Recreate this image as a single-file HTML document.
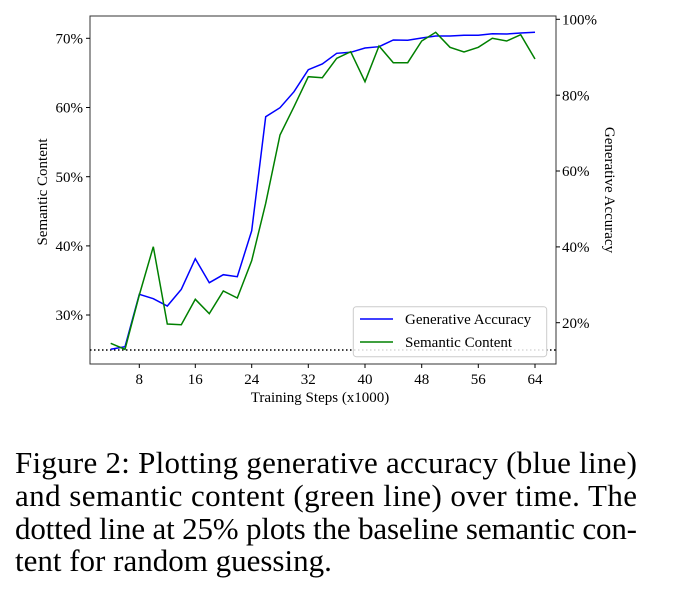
<!DOCTYPE html>
<html><head><meta charset="utf-8"><style>
html,body{margin:0;padding:0;background:#fff;width:691px;height:597px;overflow:hidden}
svg text{font-family:"Liberation Serif",serif;fill:#000}
</style></head><body>
<svg width="691" height="597" viewBox="0 0 691 597">
<rect x="90" y="16" width="466" height="348" fill="none" stroke="#333" stroke-width="1"/>
<g stroke="#000" stroke-width="1">
<line x1="139.3" y1="364" x2="139.3" y2="368"/><line x1="195.3" y1="364" x2="195.3" y2="368"/><line x1="251.7" y1="364" x2="251.7" y2="368"/><line x1="308.3" y1="364" x2="308.3" y2="368"/><line x1="365" y1="364" x2="365" y2="368"/><line x1="421.7" y1="364" x2="421.7" y2="368"/><line x1="478.3" y1="364" x2="478.3" y2="368"/><line x1="535" y1="364" x2="535" y2="368"/>
<line x1="86" y1="38.3" x2="90" y2="38.3"/><line x1="86" y1="107.5" x2="90" y2="107.5"/><line x1="86" y1="176.7" x2="90" y2="176.7"/><line x1="86" y1="245.9" x2="90" y2="245.9"/><line x1="86" y1="315" x2="90" y2="315"/>
<line x1="556" y1="19.3" x2="560" y2="19.3"/><line x1="556" y1="95.2" x2="560" y2="95.2"/><line x1="556" y1="171" x2="560" y2="171"/><line x1="556" y1="246.9" x2="560" y2="246.9"/><line x1="556" y1="322.7" x2="560" y2="322.7"/>
</g>
<g font-size="15" text-anchor="middle">
<text x="139.3" y="384">8</text><text x="195.3" y="384">16</text><text x="251.7" y="384">24</text><text x="308.3" y="384">32</text><text x="365" y="384">40</text><text x="421.7" y="384">48</text><text x="478.3" y="384">56</text><text x="535" y="384">64</text>
</g>
<g font-size="15" text-anchor="end">
<text x="83" y="43.5">70%</text><text x="83" y="112.7">60%</text><text x="83" y="181.9">50%</text><text x="83" y="251.1">40%</text><text x="83" y="320.2">30%</text>
</g>
<g font-size="15">
<text x="562" y="24.5">100%</text><text x="562" y="100.4">80%</text><text x="562" y="176.2">60%</text><text x="562" y="252.1">40%</text><text x="562" y="327.9">20%</text>
</g>
<text x="320" y="402" font-size="15" text-anchor="middle">Training Steps (x1000)</text>
<text transform="translate(47,192) rotate(-90)" font-size="15" text-anchor="middle">Semantic Content</text>
<text transform="translate(605,190) rotate(90)" font-size="15" text-anchor="middle">Generative Accuracy</text>
<line x1="90" y1="350" x2="556" y2="350" stroke="#000" stroke-width="1.5" stroke-dasharray="1.5,2.5"/>
<polyline fill="none" stroke="#0000ff" stroke-width="1.5" points="110.7,349.3 125,346.7 139.3,294.3 153.3,298.7 167.3,306 181.3,289.3 195.3,258.7 209.3,282.7 223.3,274.7 237.3,276.7 251.7,230.7 265.7,116.7 280,107.7 294,91.7 308.3,69.7 322.3,64 336.7,53.3 350.7,52.3 365,48 379,46.7 393.3,40 407.7,40.3 421.7,38 435.7,36 450,36 464,35.3 478.3,35.3 492.3,33.7 506.7,34 520.7,33 535,32.3"/>
<polyline fill="none" stroke="#008000" stroke-width="1.5" points="110.7,343.3 125,349.3 139.3,295 153.3,246.7 167.3,324 181.3,324.7 195.3,299.3 209.3,313.7 223.3,291 237.3,298 251.7,260.7 265.7,203.3 280,135 294,106.7 308.3,76.7 322.3,77.7 336.7,58.3 350.7,51.7 365,81.7 379,46 393.3,62.7 407.7,62.7 421.7,41 435.7,32.3 450,47.3 464,52 478.3,47.3 492.3,38.3 506.7,41 520.7,34.7 535,59"/>
<rect x="353.3" y="306.7" width="193.4" height="50" rx="3" fill="#fff" fill-opacity="0.85" stroke="#ccc"/>
<line x1="360" y1="319" x2="393" y2="319" stroke="#0000ff" stroke-width="1.5"/>
<line x1="360" y1="342" x2="393" y2="342" stroke="#008000" stroke-width="1.5"/>
<text x="405" y="324" font-size="15">Generative Accuracy</text>
<text x="405" y="347" font-size="15">Semantic Content</text>
<g font-size="31">
<text x="15" y="473" textLength="622" lengthAdjust="spacing">Figure 2: Plotting generative accuracy (blue line)</text>
<text x="15" y="506" textLength="622" lengthAdjust="spacing">and semantic content (green line) over time. The</text>
<text x="15" y="539" textLength="622" lengthAdjust="spacing">dotted line at 25% plots the baseline semantic con-</text>
<text x="15" y="571">tent for random guessing.</text>
</g>
</svg>
</body></html>
